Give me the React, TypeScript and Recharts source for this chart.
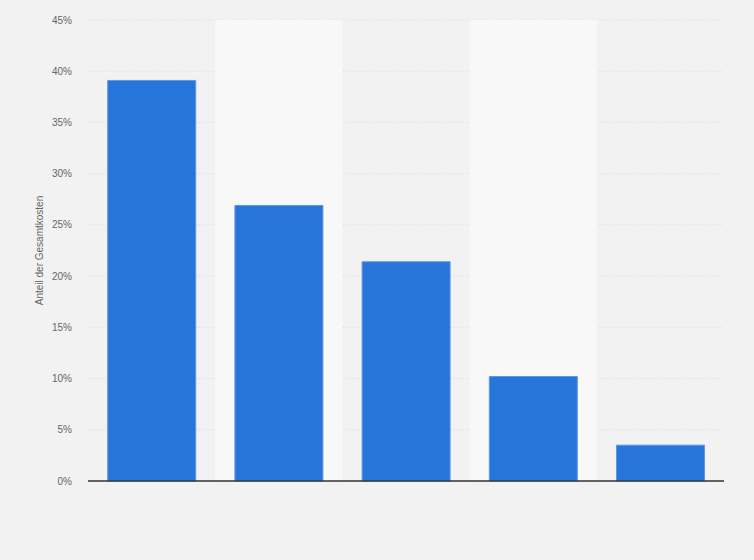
import {
  BarChart,
  Bar,
  XAxis,
  YAxis,
  CartesianGrid,
  ReferenceArea,
} from "recharts";

const categories = ["Kategorie 1", "Kategorie 2", "Kategorie 3", "Kategorie 4", "Kategorie 5"];
const shares = [39.1, 26.9, 21.4, 10.2, 3.5];
const yTicks = [0, 5, 10, 15, 20, 25, 30, 35, 40, 45];
const bandCategories = ["Kategorie 2", "Kategorie 4"];

const FONT = "'Liberation Sans', Arial, sans-serif";

export default function App() {
  const data = categories.map((name, i) => ({ name, value: shares[i] }));

  return (
    <div
      style={{
        position: "absolute",
        top: 0,
        left: 0,
        width: 754,
        height: 560,
        background: "#f2f2f2",
      }}
    >
      <BarChart
        width={754}
        height={560}
        data={data}
        margin={{ top: 20, right: 30, bottom: 69, left: 28 }}
        barCategoryGap="15.5%"
      >
        {bandCategories.map((c) => (
          <ReferenceArea
            key={c}
            x1={c}
            x2={c}
            fill="#f8f8f8"
            fillOpacity={1}
            stroke="none"
            ifOverflow="extendDomain"
          />
        ))}
        <CartesianGrid
          vertical={false}
          stroke="#d9d9d9"
          strokeDasharray="1 2"
        />
        <XAxis
          dataKey="name"
          tick={false}
          tickLine={false}
          height={10}
          axisLine={{ stroke: "#333", strokeWidth: 1.5 }}
        />
        <YAxis
          width={60}
          domain={[0, 45]}
          ticks={yTicks}
          interval={0}
          axisLine={false}
          tickLine={false}
          tickSize={0}
          tickMargin={16}
          tickFormatter={(v: number) => `${v}%`}
          tick={{ fill: "#666", fontSize: 10, fontFamily: FONT }}
          label={{
            value: "Anteil der Gesamtkosten",
            angle: -90,
            position: "insideLeft",
            offset: 11,
            style: { fill: "#666", fontSize: 10, fontFamily: FONT, textAnchor: "middle" },
          }}
        />
        <Bar
          dataKey="value"
          fill="#2775db"
          stroke="#5b98e8"
          strokeWidth={1}
          isAnimationActive={false}
        />
      </BarChart>
    </div>
  );
}
